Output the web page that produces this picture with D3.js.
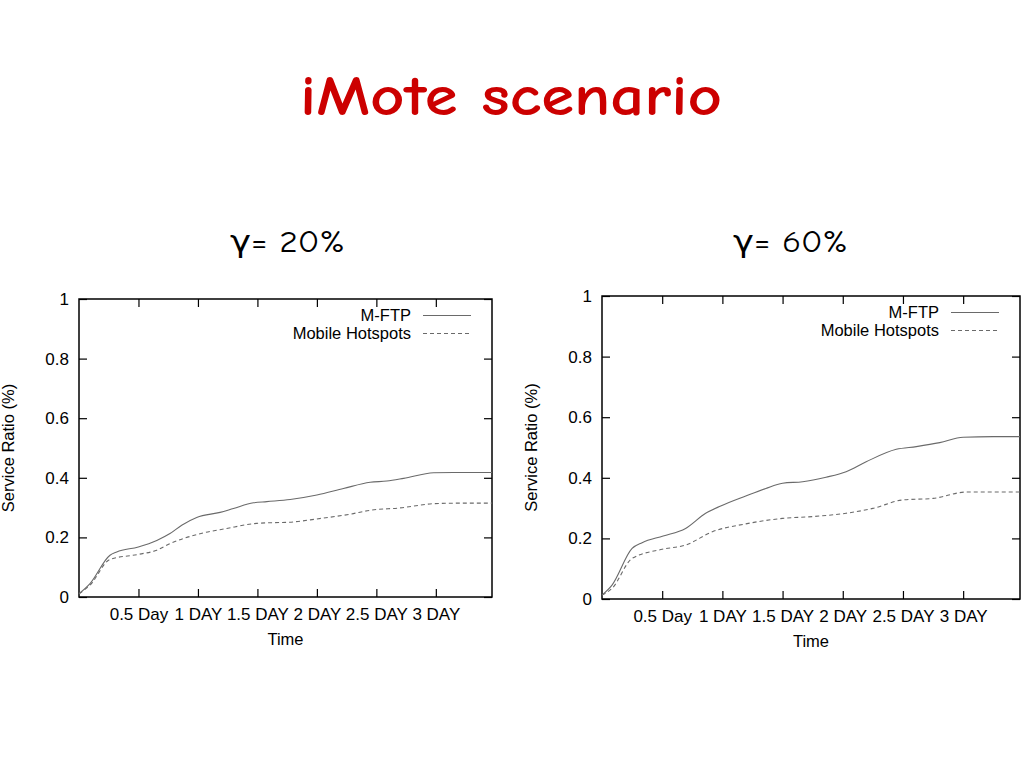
<!DOCTYPE html>
<html>
<head>
<meta charset="utf-8">
<script src="https://cdn.jsdelivr.net/npm/d3@7"></script>
<style>
  html, body { margin: 0; padding: 0; background: #fff; }
  svg { display: block; }
</style>
</head>
<body>
<svg id="chart" width="1024" height="768"></svg>
<script>
// ---------- DATA ----------
const titleText = "iMote scenario";
const panelTitles = ["γ= 20%", "γ= 60%"];
const seriesNames = ["M-FTP", "Mobile Hotspots"];
const xTickValues = [43200, 86400, 129600, 172800, 216000, 259200]; // seconds
const xTickLabels = ["0.5 Day", "1 DAY", "1.5 DAY", "2 DAY", "2.5 DAY", "3 DAY"];
const yTickValues = [0, 0.2, 0.4, 0.6, 0.8, 1];
const yTickLabels = ["0", "0.2", "0.4", "0.6", "0.8", "1"];
const xLabel = "Time";
const yLabel = "Service Ratio (%)";

// gamma = 20%
const g20MftpTime = [0, 8000, 22500, 27400, 43100, 56500, 66100, 74600, 85500, 102500, 112200, 126700, 136400, 153400, 172800, 192100, 211500, 223600, 235800, 257600, 272100, 300000];
const g20MftpValue = [0.011, 0.045, 0.140, 0.151, 0.168, 0.190, 0.213, 0.241, 0.267, 0.284, 0.297, 0.316, 0.320, 0.327, 0.342, 0.364, 0.385, 0.389, 0.398, 0.417, 0.418, 0.418];
const g20HotTime = [0, 8000, 22500, 43100, 56500, 66100, 86700, 107300, 129100, 155700, 172800, 197000, 211500, 233300, 257600, 276900, 300000];
const g20HotValue = [0.011, 0.040, 0.126, 0.143, 0.157, 0.179, 0.211, 0.230, 0.247, 0.252, 0.262, 0.278, 0.291, 0.299, 0.313, 0.315, 0.315];

// gamma = 60%
const g60MftpTime = [0, 7200, 21600, 28800, 43900, 60000, 74400, 85200, 103200, 117600, 129600, 144000, 160800, 175200, 189600, 211200, 225600, 242400, 259200, 280800, 300000];
const g60MftpValue = [0.013, 0.046, 0.167, 0.186, 0.208, 0.233, 0.283, 0.307, 0.340, 0.365, 0.382, 0.387, 0.402, 0.420, 0.453, 0.494, 0.503, 0.516, 0.534, 0.536, 0.536];
const g60HotTime = [0, 7200, 21600, 43200, 60000, 79200, 103200, 129600, 151200, 175200, 194400, 216000, 237600, 261600, 283200, 300000];
const g60HotValue = [0.013, 0.035, 0.134, 0.164, 0.178, 0.222, 0.248, 0.266, 0.272, 0.283, 0.299, 0.327, 0.332, 0.353, 0.353, 0.353];

const xDomain = [0, 300000];
const yDomain = [0, 1];

// ---------- DRAW ----------
const svg = d3.select("#chart");
const FONT = "'Liberation Sans', Arial, Helvetica, sans-serif";
const TITLE_FONT = "'Comic Sans MS', 'Comic Neue', 'DejaVu Sans', sans-serif";
const lineColor = "#6a6a6a";

svg.append("rect").attr("width", 1024).attr("height", 768).attr("fill", "#fff");

svg.append("text")
  .attr("x", 300).attr("y", 115)
  .attr("textLength", 422).attr("lengthAdjust", "spacingAndGlyphs")
  .attr("font-family", TITLE_FONT).attr("font-size", 57).attr("font-weight", "bold")
  .attr("fill", "#cc0000")
  .text(titleText);

const panels = [
  { x0: 79, x1: 492, yTop: 299, yBot: 597, titleX: 230,
    series: [[g20MftpTime, g20MftpValue], [g20HotTime, g20HotValue]] },
  { x0: 602, x1: 1020, yTop: 296, yBot: 599, titleX: 733,
    series: [[g60MftpTime, g60MftpValue], [g60HotTime, g60HotValue]] }
];

panels.forEach((p, pi) => {
  const x = d3.scaleLinear().domain(xDomain).range([p.x0, p.x1]);
  const y = d3.scaleLinear().domain(yDomain).range([p.yBot, p.yTop]);

  // panel title
  svg.append("text")
    .attr("x", p.titleX).attr("y", 252)
    .attr("textLength", 115).attr("lengthAdjust", "spacingAndGlyphs")
    .attr("font-family", TITLE_FONT).attr("font-size", 30)
    .attr("fill", "#000")
    .text(panelTitles[pi]);

  const g = svg.append("g");

  // axes
  const styleAxis = sel => {
    sel.select(".domain").remove();
    sel.selectAll(".tick line").attr("stroke", "#000").attr("stroke-width", 1.2);
    sel.selectAll(".tick text").attr("fill", "#000").attr("font-family", FONT).attr("font-size", 17);
  };
  g.append("g").attr("transform", `translate(${p.x0},0)`)
    .call(d3.axisLeft(y).tickValues(yTickValues).tickFormat((d, i) => yTickLabels[i])
      .tickSizeInner(-8).tickSizeOuter(0).tickPadding(10))
    .call(styleAxis);
  g.append("g").attr("transform", `translate(${p.x1},0)`)
    .call(d3.axisRight(y).tickValues(yTickValues).tickFormat("")
      .tickSizeInner(-8).tickSizeOuter(0))
    .call(styleAxis);
  g.append("g").attr("transform", `translate(0,${p.yBot})`)
    .call(d3.axisBottom(x).tickValues(xTickValues).tickFormat((d, i) => xTickLabels[i])
      .tickSizeInner(-8).tickSizeOuter(0).tickPadding(11))
    .call(styleAxis);
  g.append("g").attr("transform", `translate(0,${p.yTop})`)
    .call(d3.axisTop(x).tickValues(xTickValues).tickFormat("")
      .tickSizeInner(-8).tickSizeOuter(0))
    .call(styleAxis);

  // frame
  g.append("rect")
    .attr("x", p.x0).attr("y", p.yTop)
    .attr("width", p.x1 - p.x0).attr("height", p.yBot - p.yTop)
    .attr("fill", "none").attr("stroke", "#000").attr("stroke-width", 1.5);

  // axis titles
  g.append("text")
    .attr("x", (p.x0 + p.x1) / 2).attr("y", p.yBot + 48)
    .attr("text-anchor", "middle")
    .attr("font-family", FONT).attr("font-size", 16.5).attr("fill", "#000")
    .text(xLabel);
  g.append("text")
    .attr("transform", `translate(${p.x0 - 65},${(p.yTop + p.yBot) / 2}) rotate(-90)`)
    .attr("text-anchor", "middle")
    .attr("font-family", FONT).attr("font-size", 16.5).attr("fill", "#000")
    .text(yLabel);

  // lines
  const line = d3.line().curve(d3.curveMonotoneX);
  p.series.forEach((s, si) => {
    const pts = s[0].map((t, i) => [x(t), y(s[1][i])]);
    g.append("path")
      .attr("d", line(pts))
      .attr("fill", "none")
      .attr("stroke", lineColor)
      .attr("stroke-width", 1.1)
      .attr("stroke-dasharray", si === 1 ? "4,3" : null);
  });

  // legend
  seriesNames.forEach((name, si) => {
    const ly = p.yTop + 16.5 + si * 18;
    g.append("text")
      .attr("x", p.x1 - 81).attr("y", ly).attr("dy", "0.35em")
      .attr("text-anchor", "end")
      .attr("font-family", FONT).attr("font-size", 16.5).attr("fill", "#000")
      .text(name);
    g.append("line")
      .attr("x1", p.x1 - 69).attr("x2", p.x1 - 21)
      .attr("y1", ly).attr("y2", ly)
      .attr("stroke", lineColor).attr("stroke-width", 1.1)
      .attr("stroke-dasharray", si === 1 ? "4,3" : null);
  });
});
</script>
</body>
</html>
